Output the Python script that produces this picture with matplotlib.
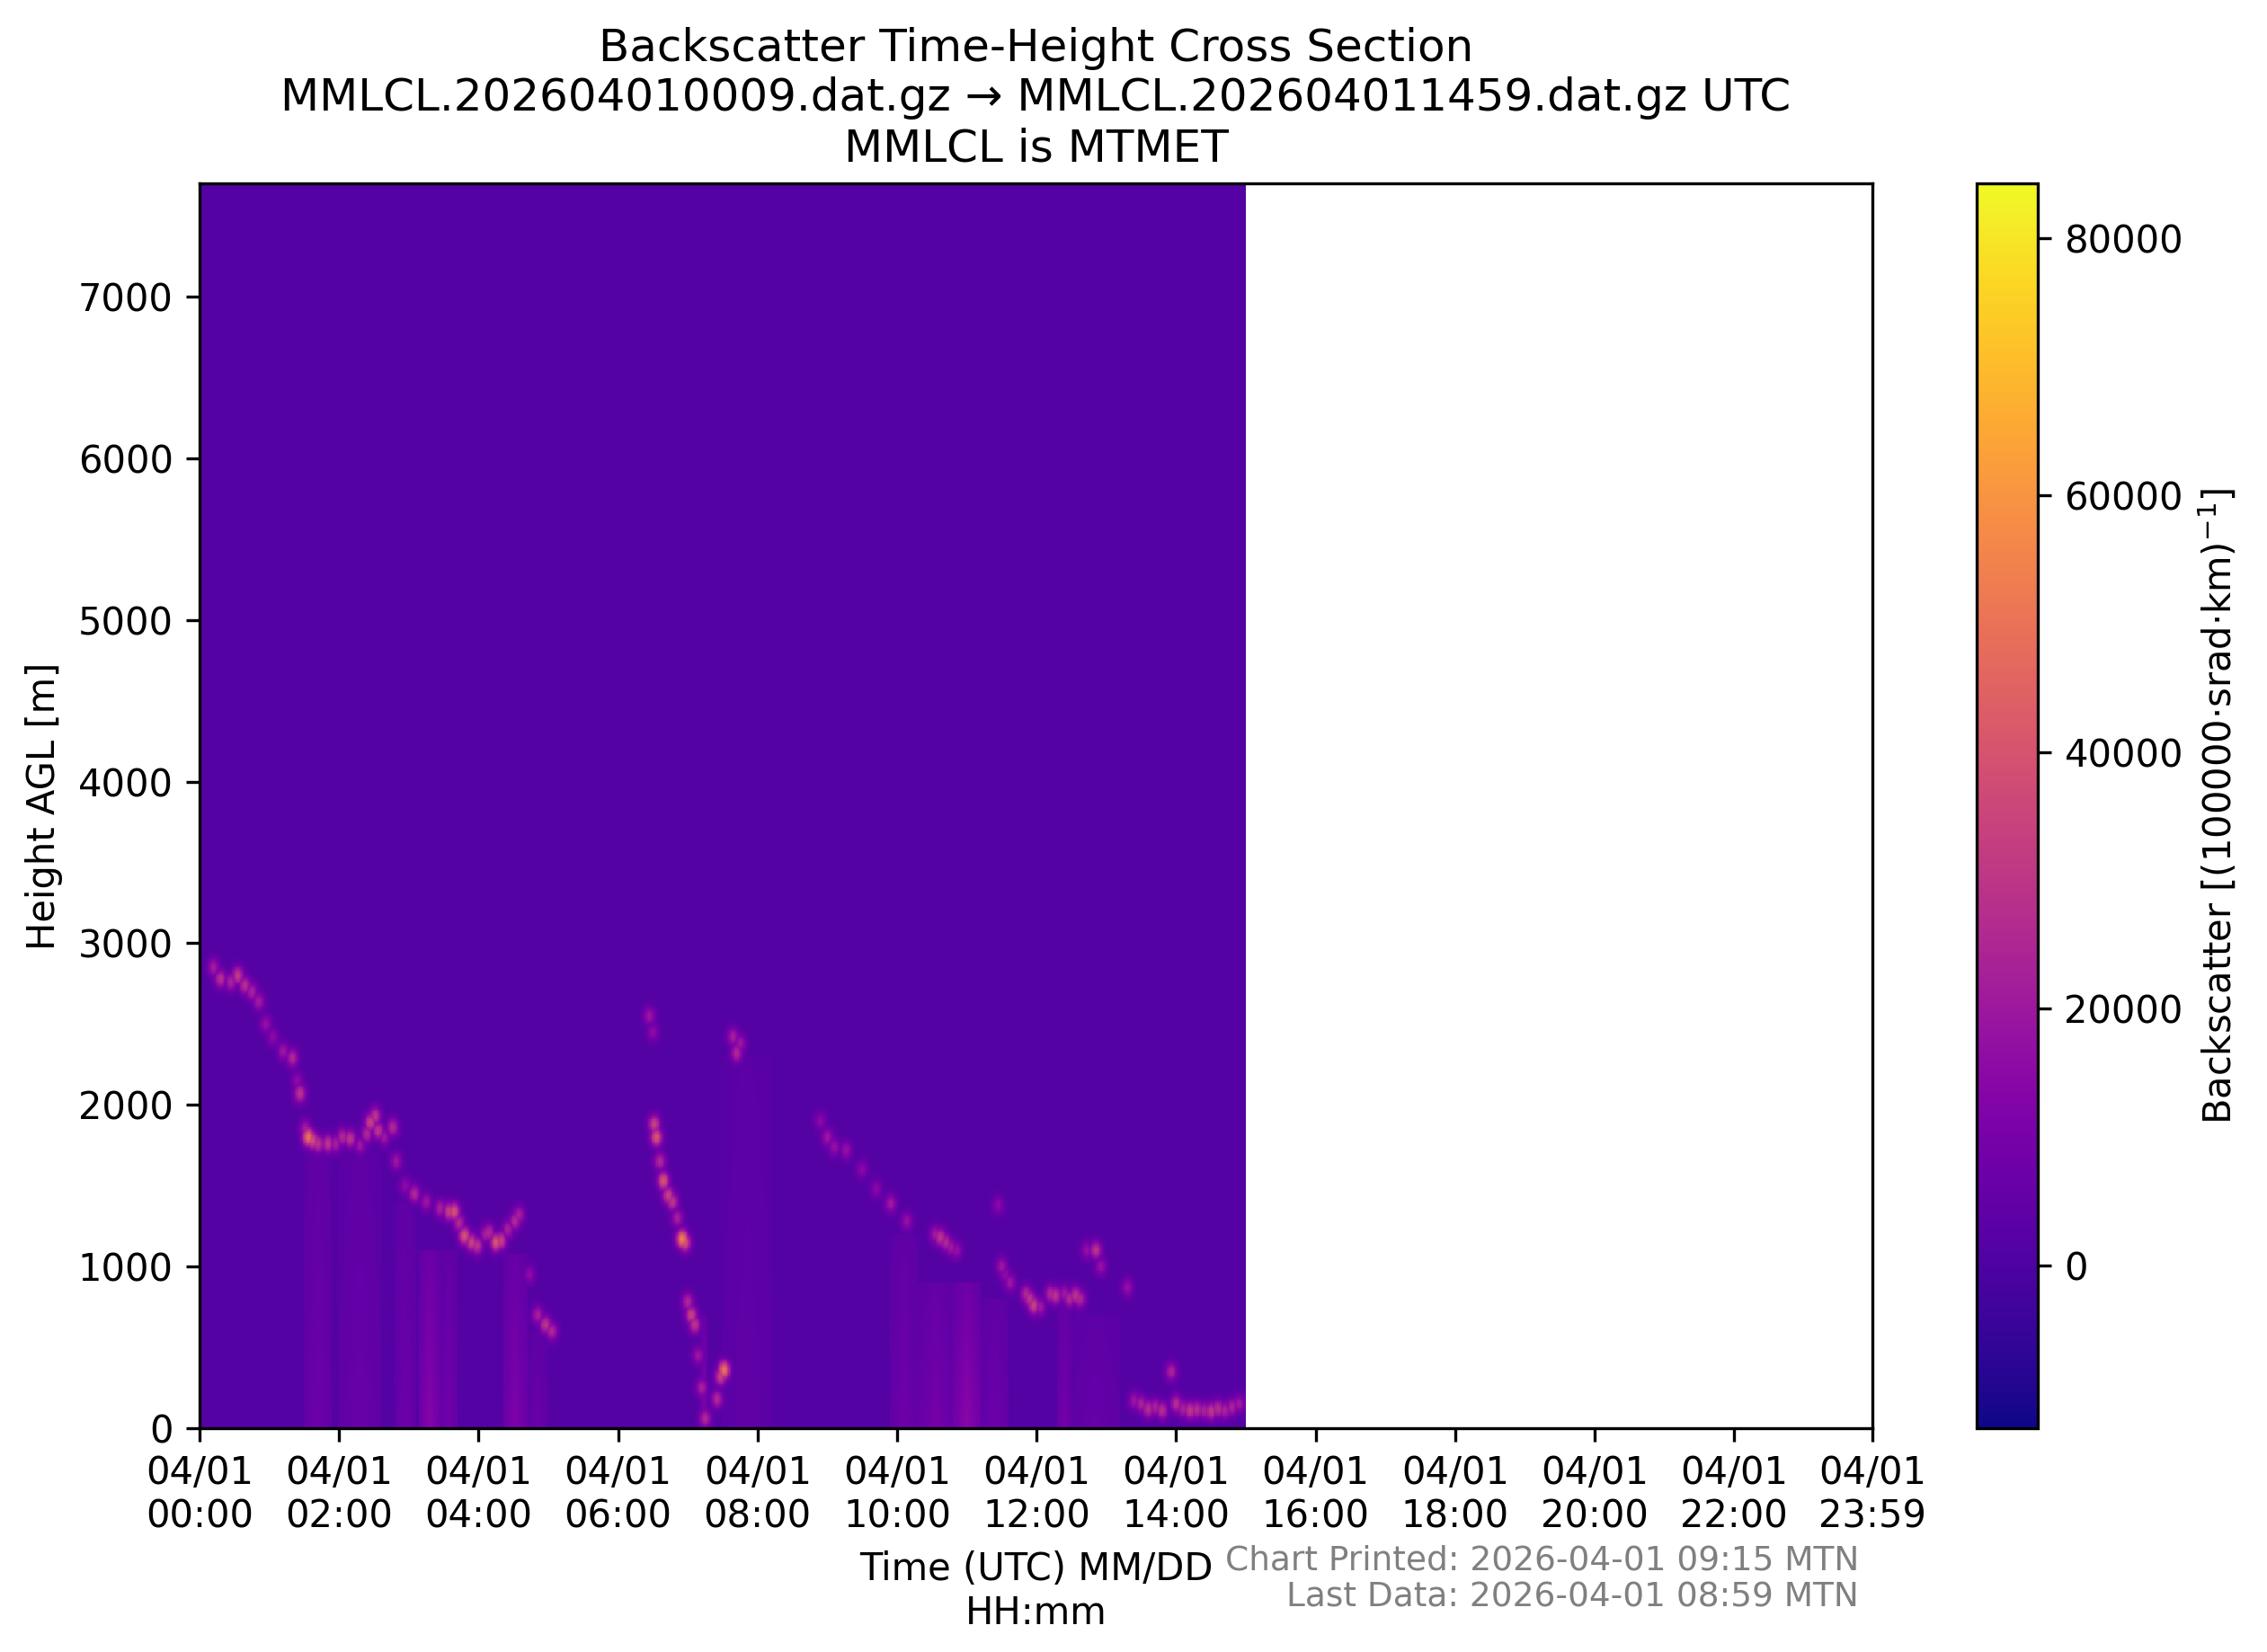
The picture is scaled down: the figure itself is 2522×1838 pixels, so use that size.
import numpy as np
import matplotlib
matplotlib.use("Agg")
import matplotlib.pyplot as plt
import matplotlib.dates as mdates
from datetime import datetime, timedelta

# ceilometer scene (hours UTC, metres AGL, backscatter)
cloud_t = [0.20, 0.30, 0.45, 0.55, 0.65, 0.75, 0.85, 0.95, 1.05, 1.20, 1.33, 1.40, 1.44, 1.52,
           1.56, 1.62, 1.70, 1.84, 1.95, 2.05, 2.16, 2.30, 2.40, 2.45, 2.52, 2.56, 2.65, 2.77,
           2.82, 2.95, 3.08, 3.25, 3.45, 3.58, 3.65, 3.72, 3.80, 3.90, 3.98, 4.10, 4.15, 4.25,
           4.32, 4.42, 4.52, 4.58, 4.73, 4.85, 4.96, 5.05,
           6.45, 6.50, 6.52, 6.55, 6.60, 6.65, 6.72, 6.78, 6.85, 6.92, 6.96, 7.00, 7.05, 7.10,
           7.15, 7.20, 7.25, 7.42, 7.47, 7.52, 7.65, 7.70, 7.75,
           8.90, 9.00, 9.10, 9.27, 9.50, 9.70, 9.91, 10.14, 10.55, 10.62, 10.70, 10.77, 10.85,
           11.45, 11.50, 11.55, 11.62, 11.85, 11.90, 11.96, 12.05, 12.20, 12.27, 12.40, 12.47,
           12.56, 12.62, 12.72, 12.85, 12.92, 13.30,
           13.40, 13.50, 13.60, 13.70, 13.80, 13.93, 14.00, 14.10, 14.20, 14.30, 14.40, 14.50,
           14.60, 14.70, 14.80, 14.90]
cloud_z = [2850, 2780, 2760, 2800, 2740, 2700, 2640, 2500, 2420, 2330, 2290, 2150, 2070, 1850,
           1800, 1780, 1760, 1760, 1760, 1800, 1790, 1750, 1820, 1890, 1930, 1840, 1800, 1860,
           1650, 1500, 1450, 1400, 1360, 1340, 1340, 1270, 1190, 1150, 1130, 1200, 1210, 1150,
           1160, 1230, 1280, 1320, 950, 700, 640, 600,
           2550, 2450, 1880, 1800, 1650, 1530, 1440, 1400, 1300, 1170, 1150, 780, 700, 640,
           450, 250, 60, 180, 320, 360, 2420, 2320, 2380,
           1900, 1800, 1740, 1720, 1600, 1480, 1390, 1280, 1200, 1180, 1150, 1120, 1100,
           1380, 1000, 950, 900, 830, 800, 760, 750, 830, 820, 830, 800,
           820, 800, 1100, 1100, 1000, 870,
           170, 150, 120, 130, 110, 350, 150, 120, 110, 115, 110, 105,
           120, 110, 130, 150]
cloud_v = [20000, 26000, 22000, 30000, 26000, 22000, 20000, 16000, 14000, 18000, 24000, 14000, 28000, 21000,
           48000, 36000, 28000, 28000, 21000, 24000, 28000, 18000, 24000, 32000, 28000, 28000, 18000, 24000,
           18000, 14000, 24000, 18000, 21000, 32000, 38000, 24000, 38000, 32000, 28000, 21000, 24000, 38000,
           32000, 21000, 24000, 21000, 14000, 21000, 28000, 24000,
           18000, 14000, 32000, 38000, 24000, 38000, 32000, 28000, 21000, 52000, 38000, 24000, 32000, 28000,
           18000, 21000, 24000, 24000, 32000, 48000, 21000, 24000, 18000,
           13000, 18000, 16000, 16000, 13000, 13000, 19000, 16000, 19000, 28000, 24000, 19000, 16000,
           13000, 18000, 14000, 18000, 24000, 28000, 32000, 19000, 24000, 28000, 19000, 24000,
           28000, 24000, 16000, 28000, 16000, 16000,
           18000, 22000, 26000, 22000, 26000, 22000, 26000, 22000, 29000, 26000, 22000, 29000,
           26000, 22000, 22000, 19000]

# faint fall streaks below cloud: start hour, end hour, top height, value
streak_t0 = [1.5, 2.0, 2.8, 3.15, 3.45, 4.35, 4.70, 7.18, 7.50, 9.90, 10.30, 10.80, 11.20, 12.30, 12.50]
streak_t1 = [1.9, 2.6, 3.1, 3.45, 3.70, 4.70, 5.00, 7.28, 8.20, 10.30, 10.80, 11.20, 11.60, 12.50, 13.20]
streak_top = [1700, 1700, 1400, 1100, 1100, 1080, 600, 700, 2300, 1200, 900, 900, 800, 750, 700]
streak_v = [6000, 5000, 6000, 12000, 7000, 10000, 5000, 11000, 3000, 6500, 8000, 13000, 6000, 8000, 4500]

background = 1500
vmin, vmax = -12700, 84300
data_end_hour = 15.0
day0 = datetime(2026, 4, 1)

# grid: 1-minute profiles, 10 m range gates up to 7700 m
hours = np.arange(0, data_end_hour, 1 / 60) + 1 / 120
heights = np.arange(5, 7700, 10)
T, Z = np.meshgrid(hours, heights)
field = np.full(T.shape, float(background))

for t0, t1, top, v in zip(streak_t0, streak_t1, streak_top, streak_v):
    mask = (T >= t0) & (T < t1) & (Z < top)
    mid, half = (t0 + t1) / 2, (t1 - t0) / 2
    taper = (1 - 0.5 * np.abs(T[mask] - mid) / half) * (1 - 0.5 * Z[mask] / top)
    field[mask] = np.maximum(field[mask], background + v * taper)

for t, z, v in zip(cloud_t, cloud_z, cloud_v):
    blob = v * np.exp(-0.5 * ((T - t) / 0.06) ** 2 - 0.5 * ((Z - z) / 40) ** 2)
    field = np.maximum(field, background + blob)

t_edges = mdates.date2num([day0 + timedelta(hours=h) for h in np.arange(0, data_end_hour + 1e-9, 1 / 60)])
z_edges = np.arange(0, 7701, 10)

fig = plt.figure(figsize=(2522 / 300, 1838 / 300), dpi=300)
ax = fig.add_axes([0.088, 0.1355, 0.738, 0.7535])
mesh = ax.pcolormesh(t_edges, z_edges, field, cmap="plasma", vmin=vmin, vmax=vmax,
                     shading="flat", rasterized=True)

ax.set_ylim(0, 7700)
ax.set_xlim(mdates.date2num(day0), mdates.date2num(day0 + timedelta(hours=23, minutes=59)))
ticks = [day0 + timedelta(hours=h) for h in range(0, 24, 2)] + [day0 + timedelta(hours=23, minutes=59)]
ax.set_xticks(mdates.date2num(ticks))
ax.xaxis.set_major_formatter(mdates.DateFormatter("%m/%d\n%H:%M"))
ax.set_xlabel("Time (UTC) MM/DD\nHH:mm")
ax.set_ylabel("Height AGL [m]")
ax.set_title("Backscatter Time-Height Cross Section\n"
             "MMLCL.202604010009.dat.gz \u2192 MMLCL.202604011459.dat.gz UTC\n"
             "MMLCL is MTMET", fontsize=12)

cax = fig.add_axes([0.872, 0.1355, 0.027, 0.7535])
cb = fig.colorbar(mesh, cax=cax)
cb.set_ticks([0, 20000, 40000, 60000, 80000])
cb.set_label("Backscatter [(100000\u00b7srad\u00b7km)$^{-1}$]")

fig.text(0.820, 0.055, "Chart Printed: 2026-04-01 09:15 MTN", ha="right", va="center",
         fontsize=9, color="gray")
fig.text(0.820, 0.033, "Last Data: 2026-04-01 08:59 MTN", ha="right", va="center",
         fontsize=9, color="gray")

fig.savefig("out.png", dpi=300)
